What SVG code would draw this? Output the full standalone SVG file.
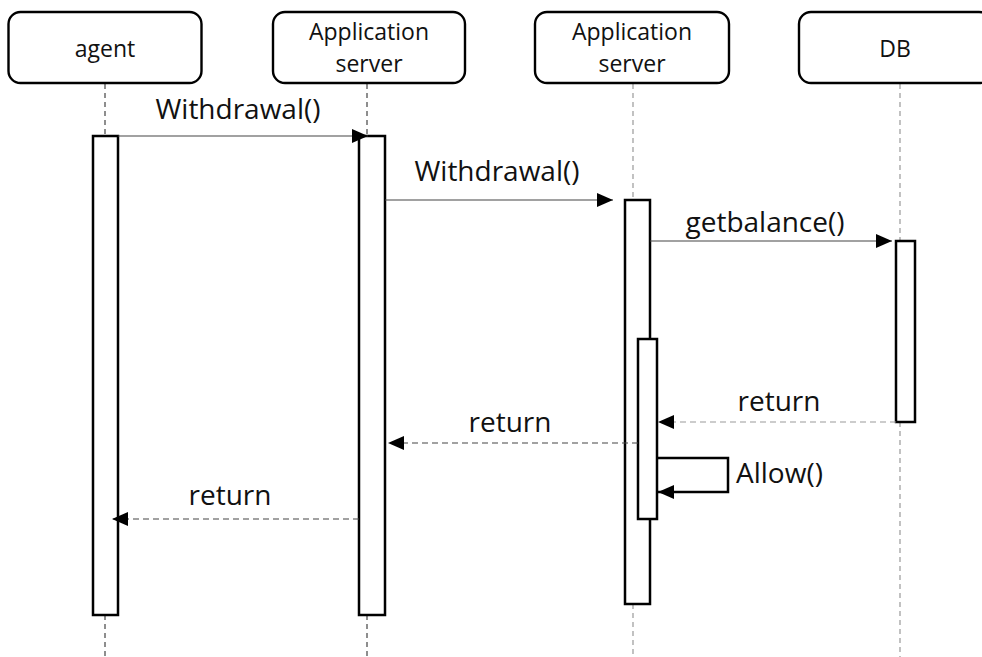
<svg xmlns="http://www.w3.org/2000/svg" width="982" height="657" viewBox="0 0 982 657">
<style>
.hdr{fill:#fff;stroke:#000;stroke-width:2.4}
.ht{font-family:"Open Sans","Liberation Sans",sans-serif;font-size:23px;fill:#111;text-anchor:middle}
.mt{font-family:"Open Sans","Liberation Sans",sans-serif;font-size:28px;fill:#111;text-anchor:middle}
.life{stroke:#444;stroke-width:1.2;stroke-dasharray:5,4;fill:none}
.life2{stroke:#999;stroke-width:1.2;stroke-dasharray:5,4;fill:none}
.bar{fill:#fff;stroke:#000;stroke-width:2.5}
.msg{stroke:#444;stroke-width:1.2;fill:none}
.ret{stroke:#444;stroke-width:1.2;stroke-dasharray:6,4;fill:none}
.ret2{stroke:#999;stroke-width:1.2;stroke-dasharray:6,4;fill:none}
</style>
<defs>
<marker id="ah" markerUnits="userSpaceOnUse" markerWidth="16" markerHeight="14" refX="16" refY="7" orient="auto">
<path d="M0,0 L16,7 L0,14 z" fill="#000"/>
</marker>
</defs>
<rect width="982" height="657" fill="#fff"/>
<g id="lifelines">
<path class="life" d="M105,84 V136 M105,615 V657"/>
<path class="life" d="M367,84 V136 M367,615 V657"/>
<path class="life2" d="M633,84 V200 M633,604 V657"/>
<path class="life2" d="M900,84 V241 M900,422 V657"/>
</g>
<g id="agent">
<rect class="hdr" x="8.5" y="12" width="193" height="71" rx="12"/>
<text class="ht" x="105" y="57">agent</text>
<rect class="bar" x="93" y="136" width="25" height="479"/>
</g>
<g id="appserver1">
<rect class="hdr" x="273" y="12" width="192" height="71" rx="12"/>
<text class="ht" x="369" y="40">Application</text>
<text class="ht" x="369" y="72">server</text>
<rect class="bar" x="359" y="136" width="26" height="479"/>
</g>
<g id="appserver2">
<rect class="hdr" x="535" y="12" width="194" height="71" rx="12"/>
<text class="ht" x="632" y="40">Application</text>
<text class="ht" x="632" y="72">server</text>
<rect class="bar" x="625" y="200" width="25" height="404"/>
<rect class="bar" x="638" y="339" width="19" height="180"/>
</g>
<g id="db">
<rect class="hdr" x="799" y="12" width="192" height="71" rx="12"/>
<text class="ht" x="895" y="57">DB</text>
<rect class="bar" x="896" y="241" width="19" height="181"/>
</g>
<g id="connectors">
<line class="msg" x1="118" y1="136" x2="368" y2="136" marker-end="url(#ah)"/>
<text class="mt" x="238" y="119">Withdrawal()</text>
<line class="msg" x1="385" y1="200" x2="613" y2="200" marker-end="url(#ah)"/>
<text class="mt" x="497" y="181">Withdrawal()</text>
<line class="msg" x1="650" y1="241" x2="892" y2="241" marker-end="url(#ah)"/>
<text class="mt" x="765" y="232">getbalance()</text>
<line class="ret2" x1="896" y1="422" x2="658" y2="422" marker-end="url(#ah)"/>
<text class="mt" x="779" y="411">return</text>
<line class="ret" x1="638" y1="443" x2="388" y2="443" marker-end="url(#ah)"/>
<text class="mt" x="510" y="432">return</text>
<polyline points="657,458 728,458 728,492 658,492" fill="none" stroke="#000" stroke-width="2.5" marker-end="url(#ah)"/>
<text class="mt" x="736" y="483" style="text-anchor:start">Allow()</text>
<line class="ret" x1="359" y1="519" x2="112" y2="519" marker-end="url(#ah)"/>
<text class="mt" x="230" y="505">return</text>
</g>
</svg>
